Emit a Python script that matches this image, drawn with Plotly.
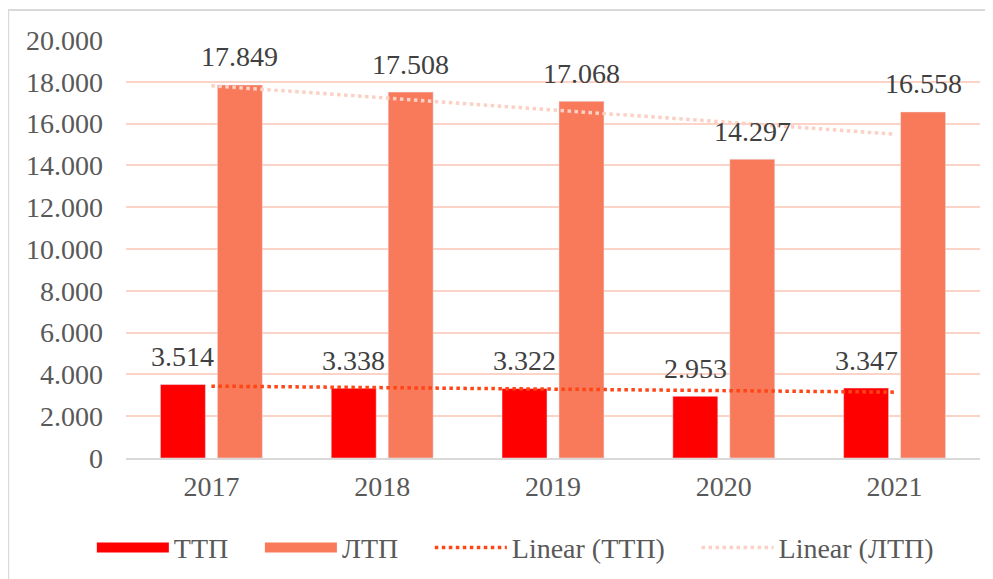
import numpy as np
import plotly.graph_objects as go

years = ["2017", "2018", "2019", "2020", "2021"]
ttp = [3514, 3338, 3322, 2953, 3347]
ltp = [17849, 17508, 17068, 14297, 16558]
tick_vals = [0, 2000, 4000, 6000, 8000, 10000, 12000, 14000, 16000, 18000, 20000]
tick_text = ["0", "2.000", "4.000", "6.000", "8.000", "10.000", "12.000", "14.000", "16.000", "18.000", "20.000"]
names = ["ТТП", "ЛТП", "Linear (ТТП)", "Linear (ЛТП)"]


def fmt(v):
    return f"{v / 1000:.3f}"


def trend(vals):
    x = np.arange(1, len(vals) + 1)
    a, b = np.polyfit(x, vals, 1)
    return list(a * x + b)


FONT = "Liberation Serif"
FS = 28
C_TTP, C_LTP = "#FF0000", "#F97A5A"
C_TR1, C_TR2 = "#FF4516", "#FBD0C5"
PAD = "\u00a0" * 3 + "\u2009"

fig = go.Figure()
fig.add_trace(go.Bar(x=years, y=ttp, name=names[0], marker=dict(color=C_TTP), showlegend=False))
fig.add_trace(go.Bar(x=years, y=ltp, name=names[1], marker=dict(color=C_LTP), showlegend=False))
fig.add_trace(go.Scatter(x=years, y=trend(ttp), name=names[2], mode="lines",
                         line=dict(color=C_TR1, width=3.5, dash="dot"), showlegend=False))
fig.add_trace(go.Scatter(x=years, y=trend(ltp), name=names[3], mode="lines",
                         line=dict(color=C_TR2, width=3.5, dash="dot"), showlegend=False))

# legend entries (bar swatches drawn as wide strokes like the original)
fig.add_trace(go.Scatter(x=[years[0]], y=[None], mode="lines", name=names[0] + PAD,
                         line=dict(color=C_TTP, width=13)))
fig.add_trace(go.Scatter(x=[years[0]], y=[None], mode="lines", name=names[1] + PAD,
                         line=dict(color=C_LTP, width=13)))
fig.add_trace(go.Scatter(x=[years[0]], y=[None], mode="lines", name=names[2] + PAD,
                         line=dict(color=C_TR1, width=3.5, dash="dot")))
fig.add_trace(go.Scatter(x=[years[0]], y=[None], mode="lines", name=names[3],
                         line=dict(color=C_TR2, width=3.5, dash="dot")))

# data labels (x given as category index)
for vals, shift in ((ttp, -28.5), (ltp, 28.5)):
    for i, v in enumerate(vals):
        fig.add_annotation(x=i, y=v, text=fmt(v), showarrow=False, xshift=shift, yshift=28,
                           yanchor="middle", font=dict(family=FONT, size=FS, color="#404040"))

fig.update_layout(
    width=985, height=571,
    margin=dict(l=118, r=13, t=32, b=121, autoexpand=False),
    paper_bgcolor="white", plot_bgcolor="white",
    barmode="group", bargap=0.333, bargroupgap=0.21,
    font=dict(family=FONT, size=FS, color="#595959"),
    showlegend=True,
    legend=dict(orientation="h", x=-0.04, xanchor="left", y=-0.215, yanchor="middle",
                font=dict(family=FONT, size=FS, color="#595959"), itemwidth=72,
                traceorder="normal"),
)
fig.update_xaxes(type="category", categoryorder="array", categoryarray=years,
                 range=[-0.5, len(years) - 0.5],
                 showgrid=False, showline=True, linecolor="#D9D9D9", linewidth=2,
                 ticks="", ticklabelstandoff=2,
                 tickfont=dict(family=FONT, size=FS, color="#595959"))
fig.update_yaxes(range=[0, 20000], tickvals=tick_vals, ticktext=tick_text,
                 showgrid=True, gridcolor="#FCD3C7", gridwidth=2, zeroline=False,
                 showline=False, ticks="", ticklabelstandoff=22,
                 tickfont=dict(family=FONT, size=FS, color="#595959"))
fig.add_shape(type="rect", xref="paper", yref="paper", x0=-0.138, x1=1.05, y0=-0.3, y1=1.072,
              line=dict(color="#D9D9D9", width=2), fillcolor="rgba(0,0,0,0)", layer="below")
fig.write_html("out.html")
